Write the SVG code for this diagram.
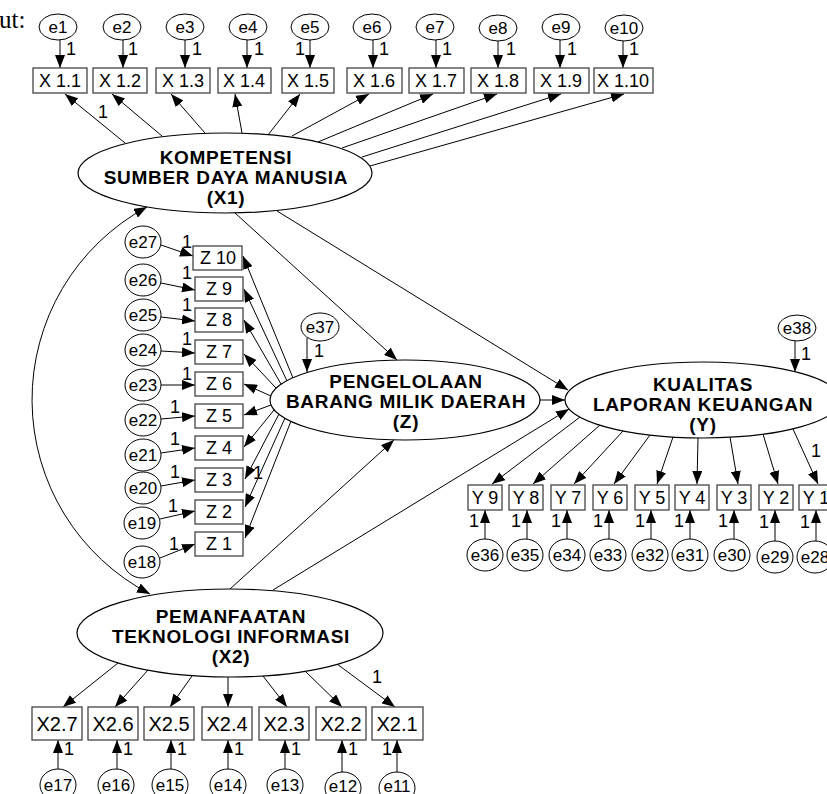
<svg xmlns="http://www.w3.org/2000/svg" width="827" height="794" viewBox="0 0 827 794">
<style>
.bg{fill:#fff}
.e{fill:#fff;stroke:#000;stroke-width:1}
.lv{fill:#fff;stroke:#000;stroke-width:1.2}
.bx{fill:#fff;stroke:#444;stroke-width:1.3}
.c{fill:none;stroke:#000;stroke-width:1}
.t{font-family:"Liberation Sans",Arial,sans-serif;fill:#000}
.el{font-size:17px;text-anchor:middle}
.bl{font-size:18px;text-anchor:middle}
.b2{font-size:20px;text-anchor:middle}
.one{font-size:18px}
.big{font-size:19px;font-weight:bold;text-anchor:middle;letter-spacing:0.7px}
</style>
<defs>
<marker id="ah" markerWidth="13" markerHeight="10" refX="13" refY="5" orient="auto-start-reverse" markerUnits="userSpaceOnUse">
<path d="M0,0 L13,5 L0,10 z" fill="#000"/>
</marker>
</defs>
<rect class="bg" x="0" y="0" width="827" height="794"/>
<text x="-1" y="28" font-family="Liberation Serif,Times New Roman,serif" font-size="25">ut:</text>

<g id="connectors" class="c" marker-end="url(#ah)">
<line x1="60" y1="40" x2="60" y2="68"/>
<line x1="123" y1="40" x2="123" y2="68"/>
<line x1="185" y1="40" x2="185" y2="68"/>
<line x1="247" y1="40" x2="247" y2="68"/>
<line x1="310" y1="40" x2="310" y2="68"/>
<line x1="373" y1="40" x2="373" y2="68"/>
<line x1="436" y1="40" x2="436" y2="68"/>
<line x1="498" y1="41" x2="498" y2="68"/>
<line x1="560" y1="40" x2="560" y2="68"/>
<line x1="623" y1="41" x2="623" y2="68"/>
<line x1="125" y1="143" x2="65" y2="94"/>
<line x1="162" y1="136" x2="112" y2="94"/>
<line x1="205" y1="133" x2="171" y2="94"/>
<line x1="242" y1="133" x2="235" y2="94"/>
<line x1="268" y1="135" x2="300" y2="94"/>
<line x1="292" y1="136" x2="369" y2="94"/>
<line x1="318" y1="142" x2="433" y2="94"/>
<line x1="342" y1="148" x2="497" y2="94"/>
<line x1="362" y1="157" x2="561" y2="94"/>
<line x1="370" y1="166" x2="624" y2="94"/>
<line x1="235" y1="213" x2="397" y2="360"/>
<line x1="277" y1="211" x2="568" y2="390"/>
<line x1="540" y1="400" x2="565" y2="400"/>
<line x1="273" y1="590" x2="569" y2="409"/>
<line x1="230" y1="589" x2="394" y2="440"/>
<path d="M147,207 A219,219 0 0 0 150,594" marker-start="url(#ah)"/>
<line x1="307" y1="338" x2="307" y2="372"/>
<line x1="795" y1="341" x2="795" y2="372"/>
<line x1="161" y1="245" x2="193" y2="256"/>
<line x1="161" y1="283" x2="195" y2="290"/>
<line x1="161" y1="317" x2="195" y2="321"/>
<line x1="161" y1="351" x2="195" y2="353"/>
<line x1="161" y1="385" x2="195" y2="385"/>
<line x1="161" y1="419" x2="195" y2="416"/>
<line x1="161" y1="453" x2="195" y2="448"/>
<line x1="161" y1="486" x2="195" y2="480"/>
<line x1="160" y1="519" x2="195" y2="511"/>
<line x1="160" y1="558" x2="195" y2="544"/>
<line x1="293" y1="378" x2="243" y2="256"/>
<line x1="287" y1="381" x2="244" y2="289"/>
<line x1="281" y1="384" x2="244" y2="320"/>
<line x1="276" y1="388" x2="244" y2="354"/>
<line x1="271" y1="396" x2="244" y2="384"/>
<line x1="271" y1="405" x2="244" y2="415"/>
<line x1="274" y1="410" x2="244" y2="447"/>
<line x1="279" y1="414" x2="245" y2="479"/>
<line x1="285" y1="418" x2="245" y2="507"/>
<line x1="291" y1="421" x2="245" y2="538"/>
<line x1="580" y1="417" x2="492" y2="484"/>
<line x1="600" y1="425" x2="533" y2="484"/>
<line x1="623" y1="431" x2="574" y2="484"/>
<line x1="650" y1="435" x2="614" y2="484"/>
<line x1="673" y1="437" x2="657" y2="484"/>
<line x1="698" y1="438" x2="697" y2="484"/>
<line x1="730" y1="437" x2="738" y2="484"/>
<line x1="763" y1="434" x2="778" y2="484"/>
<line x1="793" y1="429" x2="818" y2="484"/>
<line x1="485" y1="539" x2="485" y2="510"/>
<line x1="527" y1="539" x2="527" y2="510"/>
<line x1="567" y1="539" x2="567" y2="510"/>
<line x1="609" y1="539" x2="609" y2="510"/>
<line x1="651" y1="539" x2="651" y2="510"/>
<line x1="690" y1="539" x2="690" y2="510"/>
<line x1="734" y1="539" x2="734" y2="510"/>
<line x1="775" y1="541" x2="775" y2="510"/>
<line x1="816" y1="541" x2="816" y2="510"/>
<line x1="118" y1="663" x2="63" y2="707"/>
<line x1="148" y1="670" x2="115" y2="707"/>
<line x1="192" y1="676" x2="170" y2="707"/>
<line x1="228" y1="677" x2="228" y2="707"/>
<line x1="263" y1="676" x2="287" y2="707"/>
<line x1="305" y1="671" x2="342" y2="707"/>
<line x1="337" y1="664" x2="395" y2="707"/>
<line x1="58" y1="769" x2="58" y2="740"/>
<line x1="117" y1="769" x2="117" y2="740"/>
<line x1="171" y1="769" x2="171" y2="740"/>
<line x1="228" y1="769" x2="228" y2="740"/>
<line x1="285" y1="769" x2="285" y2="740"/>
<line x1="342" y1="772" x2="342" y2="740"/>
<line x1="397" y1="772" x2="397" y2="740"/>
</g>

<g id="weights" class="t one">
<text x="66" y="55">1</text><text x="128" y="55">1</text><text x="192" y="55">1</text><text x="254" y="55">1</text><text x="295" y="55">1</text>
<text x="379" y="55">1</text><text x="442" y="55">1</text><text x="506" y="55">1</text><text x="567" y="55">1</text><text x="629" y="55">1</text>
<text x="98" y="118">1</text>
<text x="314" y="357">1</text>
<text x="801" y="360">1</text>
<text x="182" y="248">1</text><text x="182" y="279">1</text><text x="182" y="311">1</text><text x="182" y="345">1</text><text x="182" y="380">1</text>
<text x="170" y="413">1</text><text x="170" y="445">1</text><text x="170" y="478">1</text><text x="168" y="512">1</text><text x="169" y="550">1</text>
<text x="253" y="479">1</text>
<text x="811" y="457">1</text>
<text x="469" y="527">1</text><text x="511" y="527">1</text><text x="551" y="527">1</text><text x="593" y="527">1</text><text x="635" y="527">1</text>
<text x="674" y="527">1</text><text x="718" y="527">1</text><text x="759" y="528">1</text><text x="800" y="528">1</text>
<text x="372" y="683">1</text>
<text x="64" y="755">1</text><text x="123" y="755">1</text><text x="177" y="755">1</text><text x="234" y="755">1</text><text x="291" y="755">1</text><text x="348" y="755">1</text>
<text x="382" y="755">1</text>
</g>

<g id="X1">
<ellipse class="lv" cx="225" cy="173" rx="147" ry="40"/>
<text class="t big" x="226" y="164">KOMPETENSI</text>
<text class="t big" x="226" y="184">SUMBER DAYA MANUSIA</text>
<text class="t big" x="226" y="204">(X1)</text>
</g>
<g id="Z">
<ellipse class="lv" cx="405" cy="400" rx="135" ry="40"/>
<text class="t big" x="406" y="388">PENGELOLAAN</text>
<text class="t big" x="406" y="408">BARANG MILIK DAERAH</text>
<text class="t big" x="406" y="428">(Z)</text>
</g>
<g id="Y">
<ellipse class="lv" cx="703" cy="400" rx="138" ry="38"/>
<text class="t big" x="703" y="391">KUALITAS</text>
<text class="t big" x="703" y="411">LAPORAN KEUANGAN</text>
<text class="t big" x="703" y="431">(Y)</text>
</g>
<g id="X2">
<ellipse class="lv" cx="230" cy="633" rx="153" ry="44"/>
<text class="t big" x="231" y="623">PEMANFAATAN</text>
<text class="t big" x="231" y="643">TEKNOLOGI INFORMASI</text>
<text class="t big" x="231" y="663">(X2)</text>
</g>

<g id="X1_1"><rect class="bx" x="33" y="68" width="54" height="25"/><text class="t bl" x="60" y="87">X 1.1</text></g>
<g id="X1_2"><rect class="bx" x="93" y="68" width="54" height="25"/><text class="t bl" x="120" y="87">X 1.2</text></g>
<g id="X1_3"><rect class="bx" x="156" y="68" width="54" height="25"/><text class="t bl" x="183" y="87">X 1.3</text></g>
<g id="X1_4"><rect class="bx" x="218" y="68" width="53" height="25"/><text class="t bl" x="244" y="87">X 1.4</text></g>
<g id="X1_5"><rect class="bx" x="282" y="68" width="52" height="25"/><text class="t bl" x="308" y="87">X 1.5</text></g>
<g id="X1_6"><rect class="bx" x="347" y="68" width="55" height="25"/><text class="t bl" x="374" y="87">X 1.6</text></g>
<g id="X1_7"><rect class="bx" x="409" y="68" width="55" height="25"/><text class="t bl" x="436" y="87">X 1.7</text></g>
<g id="X1_8"><rect class="bx" x="471" y="68" width="55" height="25"/><text class="t bl" x="498" y="87">X 1.8</text></g>
<g id="X1_9"><rect class="bx" x="534" y="68" width="55" height="25"/><text class="t bl" x="561" y="87">X 1.9</text></g>
<g id="X1_10"><rect class="bx" x="594" y="68" width="59" height="25"/><text class="t bl" x="623" y="87">X 1.10</text></g>

<g id="e1"><ellipse class="e" cx="58" cy="27" rx="19" ry="13"/><text class="t el" x="58" y="33">e1</text></g>
<g id="e2"><ellipse class="e" cx="122" cy="27" rx="19" ry="13"/><text class="t el" x="122" y="33">e2</text></g>
<g id="e3"><ellipse class="e" cx="185" cy="27" rx="19" ry="13"/><text class="t el" x="185" y="33">e3</text></g>
<g id="e4"><ellipse class="e" cx="248" cy="27" rx="19" ry="13"/><text class="t el" x="248" y="33">e4</text></g>
<g id="e5"><ellipse class="e" cx="310" cy="27" rx="19" ry="13"/><text class="t el" x="310" y="33">e5</text></g>
<g id="e6"><ellipse class="e" cx="372" cy="27" rx="19" ry="13"/><text class="t el" x="372" y="33">e6</text></g>
<g id="e7"><ellipse class="e" cx="435" cy="27" rx="19" ry="13"/><text class="t el" x="435" y="33">e7</text></g>
<g id="e8"><ellipse class="e" cx="498" cy="28" rx="19" ry="13"/><text class="t el" x="498" y="34">e8</text></g>
<g id="e9"><ellipse class="e" cx="561" cy="27" rx="19" ry="13"/><text class="t el" x="561" y="33">e9</text></g>
<g id="e10"><ellipse class="e" cx="624" cy="28" rx="19" ry="13"/><text class="t el" x="624" y="34">e10</text></g>

<g id="Z10"><rect class="bx" x="193" y="246" width="49" height="24"/><text class="t bl" x="218" y="264">Z 10</text></g>
<g id="Z9"><rect class="bx" x="195" y="277" width="48" height="24"/><text class="t bl" x="219" y="295">Z 9</text></g>
<g id="Z8"><rect class="bx" x="195" y="308" width="48" height="24"/><text class="t bl" x="219" y="326">Z 8</text></g>
<g id="Z7"><rect class="bx" x="195" y="340" width="48" height="24"/><text class="t bl" x="219" y="358">Z 7</text></g>
<g id="Z6"><rect class="bx" x="195" y="372" width="48" height="24"/><text class="t bl" x="219" y="390">Z 6</text></g>
<g id="Z5"><rect class="bx" x="195" y="404" width="48" height="24"/><text class="t bl" x="219" y="422">Z 5</text></g>
<g id="Z4"><rect class="bx" x="195" y="436" width="48" height="24"/><text class="t bl" x="219" y="454">Z 4</text></g>
<g id="Z3"><rect class="bx" x="195" y="468" width="48" height="24"/><text class="t bl" x="219" y="486">Z 3</text></g>
<g id="Z2"><rect class="bx" x="195" y="500" width="48" height="24"/><text class="t bl" x="219" y="518">Z 2</text></g>
<g id="Z1"><rect class="bx" x="195" y="532" width="48" height="24"/><text class="t bl" x="219" y="550">Z 1</text></g>

<g id="e27"><ellipse class="e" cx="143" cy="242" rx="18" ry="16"/><text class="t el" x="143" y="248">e27</text></g>
<g id="e26"><ellipse class="e" cx="143" cy="280" rx="18" ry="16"/><text class="t el" x="143" y="286">e26</text></g>
<g id="e25"><ellipse class="e" cx="143" cy="315" rx="18" ry="16"/><text class="t el" x="143" y="321">e25</text></g>
<g id="e24"><ellipse class="e" cx="143" cy="350" rx="18" ry="16"/><text class="t el" x="143" y="356">e24</text></g>
<g id="e23"><ellipse class="e" cx="143" cy="385" rx="18" ry="16"/><text class="t el" x="143" y="391">e23</text></g>
<g id="e22"><ellipse class="e" cx="143" cy="420" rx="18" ry="16"/><text class="t el" x="143" y="426">e22</text></g>
<g id="e21"><ellipse class="e" cx="143" cy="455" rx="18" ry="16"/><text class="t el" x="143" y="461">e21</text></g>
<g id="e20"><ellipse class="e" cx="143" cy="488" rx="18" ry="16"/><text class="t el" x="143" y="494">e20</text></g>
<g id="e19"><ellipse class="e" cx="142" cy="523" rx="18" ry="16"/><text class="t el" x="142" y="529">e19</text></g>
<g id="e18"><ellipse class="e" cx="142" cy="562" rx="18" ry="16"/><text class="t el" x="142" y="568">e18</text></g>

<g id="e37"><ellipse class="e" cx="320" cy="327" rx="19" ry="14"/><text class="t el" x="320" y="333">e37</text></g>
<g id="e38"><ellipse class="e" cx="797" cy="328" rx="19" ry="13"/><text class="t el" x="797" y="334">e38</text></g>

<g id="Y9"><rect class="bx" x="468" y="485" width="34" height="25"/><text class="t bl" x="485" y="504">Y 9</text></g>
<g id="Y8"><rect class="bx" x="509" y="485" width="34" height="25"/><text class="t bl" x="526" y="504">Y 8</text></g>
<g id="Y7"><rect class="bx" x="551" y="485" width="34" height="25"/><text class="t bl" x="568" y="504">Y 7</text></g>
<g id="Y6"><rect class="bx" x="593" y="485" width="34" height="25"/><text class="t bl" x="610" y="504">Y 6</text></g>
<g id="Y5"><rect class="bx" x="635" y="485" width="34" height="25"/><text class="t bl" x="652" y="504">Y 5</text></g>
<g id="Y4"><rect class="bx" x="675" y="485" width="34" height="25"/><text class="t bl" x="692" y="504">Y 4</text></g>
<g id="Y3"><rect class="bx" x="717" y="485" width="34" height="25"/><text class="t bl" x="734" y="504">Y 3</text></g>
<g id="Y2"><rect class="bx" x="759" y="485" width="34" height="25"/><text class="t bl" x="776" y="504">Y 2</text></g>
<g id="Y1"><rect class="bx" x="799" y="485" width="34" height="25"/><text class="t bl" x="816" y="504">Y 1</text></g>

<g id="e36"><ellipse class="e" cx="485" cy="555" rx="18" ry="16"/><text class="t el" x="485" y="561">e36</text></g>
<g id="e35"><ellipse class="e" cx="525" cy="555" rx="18" ry="16"/><text class="t el" x="525" y="561">e35</text></g>
<g id="e34"><ellipse class="e" cx="567" cy="555" rx="18" ry="16"/><text class="t el" x="567" y="561">e34</text></g>
<g id="e33"><ellipse class="e" cx="608" cy="555" rx="18" ry="16"/><text class="t el" x="608" y="561">e33</text></g>
<g id="e32"><ellipse class="e" cx="650" cy="555" rx="18" ry="16"/><text class="t el" x="650" y="561">e32</text></g>
<g id="e31"><ellipse class="e" cx="690" cy="555" rx="18" ry="16"/><text class="t el" x="690" y="561">e31</text></g>
<g id="e30"><ellipse class="e" cx="732" cy="555" rx="18" ry="16"/><text class="t el" x="732" y="561">e30</text></g>
<g id="e29"><ellipse class="e" cx="775" cy="557" rx="18" ry="16"/><text class="t el" x="775" y="563">e29</text></g>
<g id="e28"><ellipse class="e" cx="815" cy="557" rx="18" ry="16"/><text class="t el" x="815" y="563">e28</text></g>

<g id="X2_7"><rect class="bx" x="32" y="707" width="50" height="33"/><text class="t b2" x="57" y="731">X2.7</text></g>
<g id="X2_6"><rect class="bx" x="88" y="707" width="50" height="33"/><text class="t b2" x="113" y="731">X2.6</text></g>
<g id="X2_5"><rect class="bx" x="144" y="707" width="50" height="33"/><text class="t b2" x="169" y="731">X2.5</text></g>
<g id="X2_4"><rect class="bx" x="202" y="707" width="50" height="33"/><text class="t b2" x="227" y="731">X2.4</text></g>
<g id="X2_3"><rect class="bx" x="259" y="707" width="50" height="33"/><text class="t b2" x="284" y="731">X2.3</text></g>
<g id="X2_2"><rect class="bx" x="316" y="707" width="50" height="33"/><text class="t b2" x="341" y="731">X2.2</text></g>
<g id="X2_1"><rect class="bx" x="372" y="707" width="51" height="33"/><text class="t b2" x="397" y="731">X2.1</text></g>

<g id="e17"><ellipse class="e" cx="58" cy="785" rx="18" ry="16"/><text class="t el" x="58" y="791">e17</text></g>
<g id="e16"><ellipse class="e" cx="116" cy="785" rx="18" ry="16"/><text class="t el" x="116" y="791">e16</text></g>
<g id="e15"><ellipse class="e" cx="170" cy="785" rx="18" ry="16"/><text class="t el" x="170" y="791">e15</text></g>
<g id="e14"><ellipse class="e" cx="228" cy="785" rx="18" ry="16"/><text class="t el" x="228" y="791">e14</text></g>
<g id="e13"><ellipse class="e" cx="285" cy="785" rx="18" ry="16"/><text class="t el" x="285" y="791">e13</text></g>
<g id="e12"><ellipse class="e" cx="343" cy="788" rx="18" ry="16"/><text class="t el" x="343" y="792">e12</text></g>
<g id="e11"><ellipse class="e" cx="397" cy="788" rx="18" ry="16"/><text class="t el" x="397" y="792">e11</text></g>
</svg>
